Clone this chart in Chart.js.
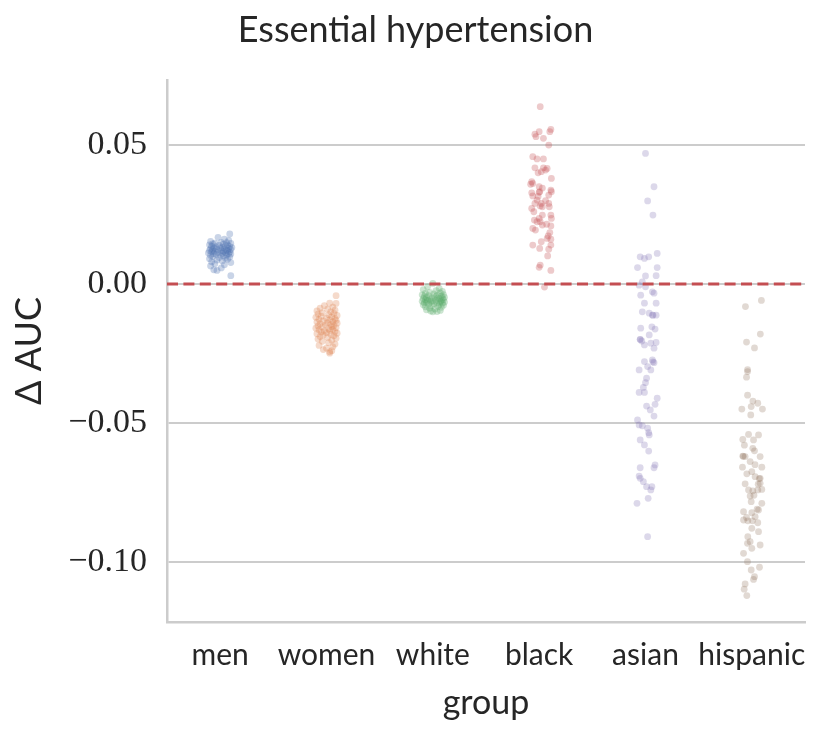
<!DOCTYPE html>
<html>
<head>
<meta charset="utf-8">
<script src="https://cdn.jsdelivr.net/npm/chart.js@4.4.1/dist/chart.umd.min.js"></script>
<style>
html,body{margin:0;padding:0;background:#ffffff;}
#wrap{width:831px;height:734px;position:relative;}
</style>
</head>
<body>
<div id="wrap"><canvas id="c"></canvas></div>
<script>
// ---------------- data ----------------
const categories = ['men', 'women', 'white', 'black', 'asian', 'hispanic'];
const yTickValues = [-0.10, -0.05, 0.00, 0.05];
const yMin = -0.1216, yMax = 0.0734;
const xMin = -0.5, xMax = 5.5;
const referenceDelta = 0.0;

const menDelta = [0.0180, 0.0168, 0.0161, 0.0157, 0.0153, 0.0150, 0.0149, 0.0147, 0.0146, 0.0144,
  0.0143, 0.0141, 0.0140, 0.0139, 0.0137, 0.0136, 0.0135, 0.0134, 0.0132, 0.0131,
  0.0130, 0.0129, 0.0128, 0.0127, 0.0126, 0.0125, 0.0124, 0.0123, 0.0122, 0.0121,
  0.0120, 0.0119, 0.0118, 0.0117, 0.0116, 0.0115, 0.0114, 0.0113, 0.0112, 0.0111,
  0.0110, 0.0109, 0.0108, 0.0107, 0.0105, 0.0104, 0.0103, 0.0101, 0.0099, 0.0097,
  0.0095, 0.0093, 0.0091, 0.0089, 0.0086, 0.0083, 0.0080, 0.0077, 0.0073, 0.0069,
  0.0065, 0.0058, 0.0051, 0.0049, 0.0030];
const menJitter = [0.09, -0.02, 0.04, 0.08, -0.09, 0.01, 0.06, -0.05, 0.10, -0.07,
  0.03, -0.10, 0.07, -0.01, 0.05, -0.08, 0.09, -0.04, 0.02, 0.11,
  -0.06, 0.00, 0.08, -0.09, 0.04, -0.03, 0.10, -0.07, 0.06, -0.10,
  0.01, 0.07, -0.05, 0.03, -0.08, 0.09, -0.02, 0.05, -0.11, 0.02,
  0.08, -0.06, 0.10, -0.04, 0.00, 0.06, -0.09, 0.03, -0.07, 0.09,
  -0.01, 0.05, -0.10, 0.07, -0.03, 0.02, -0.08, 0.10, -0.05, 0.04,
  -0.09, 0.01, -0.06, -0.03, 0.10];

const womenDelta = [-0.0042, -0.0069, -0.0070, -0.0078, -0.0083, -0.0087, -0.0090, -0.0094, -0.0097, -0.0100,
  -0.0103, -0.0106, -0.0108, -0.0111, -0.0113, -0.0116, -0.0118, -0.0120, -0.0123, -0.0125,
  -0.0127, -0.0129, -0.0131, -0.0133, -0.0135, -0.0137, -0.0139, -0.0141, -0.0143, -0.0145,
  -0.0147, -0.0149, -0.0151, -0.0153, -0.0155, -0.0157, -0.0159, -0.0161, -0.0163, -0.0165,
  -0.0167, -0.0169, -0.0171, -0.0173, -0.0175, -0.0177, -0.0179, -0.0181, -0.0183, -0.0186,
  -0.0189, -0.0192, -0.0195, -0.0198, -0.0202, -0.0206, -0.0211, -0.0216, -0.0221, -0.0226,
  -0.0231, -0.0236, -0.0240, -0.0244, -0.0249];
const womenJitter = [0.09, 0.03, 0.09, -0.02, 0.06, -0.06, 0.01, 0.08, -0.09, 0.04,
  -0.04, 0.07, -0.08, 0.02, 0.10, -0.05, 0.05, -0.10, 0.00, 0.08,
  -0.07, 0.03, 0.09, -0.03, 0.06, -0.09, 0.01, 0.10, -0.06, 0.04,
  -0.01, 0.07, -0.08, 0.05, -0.04, 0.09, -0.10, 0.02, 0.06, -0.07,
  0.03, -0.02, 0.08, -0.05, 0.00, 0.10, -0.09, 0.04, -0.03, 0.07,
  -0.06, 0.01, 0.09, -0.08, 0.05, -0.04, 0.02, 0.08, -0.07, 0.06,
  0.00, -0.03, 0.05, 0.03, 0.03];

const whiteDelta = [0.0002, -0.0010, -0.0016, -0.0020, -0.0024, -0.0027, -0.0030, -0.0032, -0.0034, -0.0036,
  -0.0038, -0.0039, -0.0041, -0.0042, -0.0044, -0.0045, -0.0046, -0.0048, -0.0049, -0.0050,
  -0.0051, -0.0052, -0.0053, -0.0054, -0.0055, -0.0056, -0.0057, -0.0058, -0.0059, -0.0060,
  -0.0061, -0.0062, -0.0063, -0.0064, -0.0065, -0.0066, -0.0067, -0.0068, -0.0069, -0.0070,
  -0.0072, -0.0073, -0.0075, -0.0076, -0.0078, -0.0080, -0.0082, -0.0084, -0.0087, -0.0090,
  -0.0093, -0.0095, -0.0097, -0.0099, -0.0100];
const whiteJitter = [0.00, -0.05, 0.06, -0.09, 0.03, 0.09, -0.03, 0.07, -0.07, 0.01,
  0.10, -0.10, 0.04, -0.04, 0.08, -0.08, 0.02, 0.11, -0.06, 0.05,
  -0.01, 0.09, -0.09, 0.06, -0.03, 0.10, -0.07, 0.03, -0.05, 0.08,
  0.00, -0.10, 0.07, -0.02, 0.11, -0.06, 0.04, -0.08, 0.09, 0.01,
  -0.04, 0.06, -0.09, 0.10, -0.01, 0.05, -0.07, 0.08, -0.03, 0.02,
  -0.06, 0.07, -0.02, 0.04, 0.00];

const blackDelta = [0.0638, 0.0556, 0.0548, 0.0539, 0.0548, 0.0530, 0.0524, 0.0500, 0.0458, 0.0450,
  0.0450, 0.0418, 0.0400, 0.0418, 0.0416, 0.0410, 0.0404, 0.0380, 0.0368, 0.0362,
  0.0359, 0.0350, 0.0332, 0.0338, 0.0332, 0.0320, 0.0328, 0.0317, 0.0302, 0.0278,
  0.0281, 0.0272, 0.0290, 0.0290, 0.0278, 0.0248, 0.0236, 0.0248, 0.0230, 0.0224,
  0.0224, 0.0236, 0.0209, 0.0212, 0.0200, 0.0194, 0.0173, 0.0164, 0.0161, 0.0152,
  0.0140, 0.0140, 0.0128, 0.0125, 0.0101, 0.0068, 0.0060, 0.0049, -0.0011, 0.0330,
  0.0300, 0.0260, 0.0215, 0.0185, 0.0315, 0.0345, 0.0290];
const blackJitter = [0.01, 0.11, 0.10, -0.04, 0.00, -0.03, 0.04, 0.09, -0.06, -0.02,
  0.04, -0.04, -0.01, 0.04, 0.075, 0.06, 0.02, 0.115, -0.07, -0.06,
  -0.08, 0.00, 0.005, 0.11, 0.115, 0.09, -0.07, -0.06, -0.02, 0.03,
  0.01, -0.07, -0.04, 0.09, 0.095, 0.11, 0.115, 0.03, -0.045, -0.02,
  0.01, 0.00, 0.11, 0.03, -0.06, -0.035, 0.085, 0.075, 0.11, 0.02,
  0.11, -0.06, 0.005, 0.09, 0.08, 0.01, 0.00, 0.11, 0.05, 0.00,
  0.06, -0.05, 0.07, 0.10, -0.01, 0.03, 0.02];

const asianDelta = [0.0470, 0.0350, 0.0299, 0.0248, 0.0098, 0.0092, 0.0098, 0.0110, 0.0059, 0.0059,
  0.0030, 0.0029, 0.0008, -0.0004, -0.0010, -0.0040, -0.0028, -0.0033, -0.0069, -0.0069,
  -0.0100, -0.0105, -0.0112, -0.0112, -0.0159, -0.0154, -0.0162, -0.0183, -0.0199, -0.0205,
  -0.0219, -0.0213, -0.0231, -0.0210, -0.0279, -0.0273, -0.0283, -0.0297, -0.0309, -0.0309,
  -0.0339, -0.0355, -0.0372, -0.0390, -0.0390, -0.0411, -0.0439, -0.0433, -0.0453, -0.0475,
  -0.0489, -0.0507, -0.0510, -0.0519, -0.0543, -0.0535, -0.0561, -0.0579, -0.0601, -0.0661,
  -0.0651, -0.0661, -0.0691, -0.0699, -0.0711, -0.0729, -0.0729, -0.0741, -0.0771, -0.0789,
  -0.0909, -0.0200, -0.0280, -0.0112];
const asianJitter = [0.00, 0.08, 0.02, 0.07, -0.05, -0.01, 0.03, 0.11, -0.075, 0.11,
  0.10, 0.00, -0.03, -0.06, 0.00, -0.045, 0.065, 0.08, -0.01, 0.10,
  -0.03, 0.035, 0.065, 0.10, -0.045, 0.06, 0.09, 0.035, -0.05, -0.035,
  -0.01, 0.05, 0.08, 0.10, -0.01, 0.065, 0.08, 0.02, -0.06, 0.05,
  0.01, 0.00, -0.02, -0.06, -0.01, 0.11, 0.01, 0.09, 0.045, 0.08,
  -0.075, -0.06, -0.03, 0.02, 0.035, 0.03, -0.05, -0.01, 0.03, -0.05,
  0.09, 0.08, -0.06, -0.05, -0.02, 0.01, 0.06, 0.05, 0.025, -0.08,
  0.02, -0.05, 0.07, 0.07];

const hispanicDelta = [-0.0059, -0.0081, -0.0180, -0.0209, -0.0230, -0.0308, -0.0315, -0.0335, -0.0400, -0.0421,
  -0.0429, -0.0450, -0.0441, -0.0450, -0.0471, -0.0559, -0.0541, -0.0561, -0.0543, -0.0591,
  -0.0600, -0.0619, -0.0621, -0.0621, -0.0639, -0.0659, -0.0659, -0.0683, -0.0675, -0.0693,
  -0.0699, -0.0719, -0.0717, -0.0741, -0.0744, -0.0741, -0.0739, -0.0763, -0.0783, -0.0789,
  -0.0819, -0.0823, -0.0813, -0.0837, -0.0849, -0.0852, -0.0852, -0.0859, -0.0879, -0.0891,
  -0.0909, -0.0927, -0.0933, -0.0951, -0.0939, -0.0969, -0.0999, -0.1029, -0.1019, -0.1053,
  -0.1063, -0.1079, -0.1098, -0.1121, -0.0620, -0.0700, -0.0720, -0.0760, -0.0810, -0.0840,
  -0.0650, -0.0580];
const hispanicJitter = [0.09, -0.06, 0.08, -0.05, 0.025, -0.04, -0.04, -0.05, -0.04, 0.01,
  0.056, -0.094, -0.006, 0.10, -0.01, -0.085, -0.031, 0.016, 0.063, 0.009,
  0.025, -0.085, -0.063, 0.078, -0.016, -0.088, 0.094, -0.047, 0.00, 0.031,
  0.078, -0.063, 0.078, -0.031, 0.009, 0.056, 0.094, -0.016, -0.006, 0.094,
  -0.078, 0.00, 0.063, 0.031, -0.078, -0.038, 0.006, 0.056, 0.00, 0.063,
  -0.038, -0.016, -0.041, 0.00, 0.078, -0.078, -0.041, -0.006, 0.072, 0.025,
  0.016, -0.063, -0.072, -0.047, -0.08, 0.07, 0.06, 0.02, 0.05, -0.05,
  0.03, -0.07];

// ---------------- styles ----------------
const groupDelta = [menDelta, womenDelta, whiteDelta, blackDelta, asianDelta, hispanicDelta];
const groupJitter = [menJitter, womenJitter, whiteJitter, blackJitter, asianJitter, hispanicJitter];
const groupColors = ['rgba(76,114,176,0.30)', 'rgba(221,132,82,0.30)', 'rgba(85,168,104,0.30)',
  'rgba(196,78,82,0.30)', 'rgba(129,114,179,0.28)', 'rgba(147,120,96,0.28)'];
const textColor = '#262626';
const gridColor = '#cccccc';
const sansFont = 'Lato';
const serifFont = 'Liberation Serif';

const datasets = [];
datasets.push({
  type: 'line',
  label: 'reference',
  data: [{x: xMin, y: referenceDelta}, {x: xMax, y: referenceDelta}],
  borderColor: '#c44e52',
  borderWidth: 3,
  borderDash: [11, 5.4],
  pointRadius: 0,
  fill: false,
  order: 0
});
categories.forEach((cat, gi) => {
  const d = groupDelta[gi], j = groupJitter[gi];
  const n = Math.min(d.length, j.length);
  const pts = [];
  for (let i = 0; i < n; i++) pts.push({x: gi + j[i], y: d[i]});
  datasets.push({
    type: 'scatter',
    label: cat,
    data: pts,
    pointRadius: 3.4,
    pointHoverRadius: 3.4,
    pointBackgroundColor: groupColors[gi],
    pointBorderWidth: 0,
    pointBorderColor: 'rgba(0,0,0,0)',
    order: 1
  });
});

function fmtTick(v) {
  if (Math.abs(v) < 1e-9) return '0.00';
  return (v < 0 ? '\u2212' : '') + Math.abs(v).toFixed(2);
}

new Chart(document.getElementById('c'), {
  data: {datasets},
  options: {
    responsive: true,
    maintainAspectRatio: false,
    animation: false,
    events: [],
    layout: {padding: {left: 0, right: 0, top: 0, bottom: 0}},
    plugins: {
      legend: {display: false},
      tooltip: {enabled: false},
      title: {
        display: true,
        text: 'Essential hypertension',
        color: textColor,
        font: {family: sansFont, size: 36, weight: 'normal', lineHeight: 1.2},
        padding: {top: 9, bottom: 27.8}
      }
    },
    scales: {
      x: {
        type: 'linear',
        min: xMin,
        max: xMax,
        afterBuildTicks: s => { s.ticks = categories.map((c, i) => ({value: i})); },
        afterFit: s => { s.height = 112; s.paddingLeft = 0; s.paddingRight = 0; },
        grid: {display: false, drawTicks: false},
        border: {display: true, color: gridColor, width: 2.5},
        ticks: {
          color: textColor,
          font: {family: sansFont, size: 30, lineHeight: 1.2},
          padding: 15,
          maxRotation: 0,
          autoSkip: false,
          callback: v => categories[Math.round(v)]
        },
        title: {
          display: true,
          text: 'group',
          color: textColor,
          font: {family: sansFont, size: 34, lineHeight: 1.2},
          padding: {top: 0, bottom: 11}
        }
      },
      y: {
        type: 'linear',
        min: yMin,
        max: yMax,
        afterBuildTicks: s => { s.ticks = yTickValues.map(v => ({value: v})); },
        afterFit: s => { s.width = 167; s.paddingTop = 0; s.paddingBottom = 0; },
        grid: {display: true, color: gridColor, lineWidth: 2, drawTicks: false},
        border: {display: true, color: gridColor, width: 2.5},
        ticks: {
          color: textColor,
          font: {family: serifFont, size: 34, lineHeight: 1.2},
          padding: 20,
          callback: v => fmtTick(v)
        },
        title: {
          display: true,
          text: '\u0394 AUC',
          color: textColor,
          font: {family: sansFont, size: 36, lineHeight: 1.2},
          padding: {top: 7.5, bottom: 0}
        }
      },
      yRightMargin: {
        type: 'linear',
        position: 'right',
        display: true,
        min: yMin,
        max: yMax,
        afterFit: s => { s.width = 26; s.paddingTop = 0; s.paddingBottom = 0; },
        grid: {display: false, drawTicks: false},
        border: {display: false},
        ticks: {display: false}
      }
    }
  }
});
</script>
</body>
</html>
